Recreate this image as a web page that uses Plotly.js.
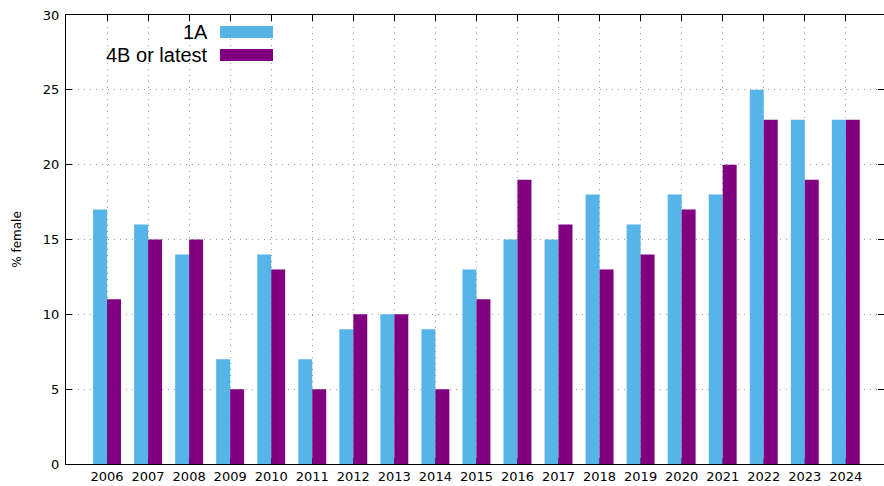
<!DOCTYPE html>
<html>
<head>
<meta charset="utf-8">
<script src="https://cdn.plot.ly/plotly-3.0.1.min.js"></script>
<style>html,body{margin:0;padding:0;background:#fff;}#chart{width:884px;height:486px;}</style>
</head>
<body>
<div id="chart"></div>
<script>
const years = ["2006","2007","2008","2009","2010","2011","2012","2013","2014","2015","2016","2017","2018","2019","2020","2021","2022","2023","2024"];
const series1Name = "1A";
const series1 = [17,16,14,7,14,7,9,10,9,13,15,15,18,16,18,18,25,23,23];
const series2Name = "4B or latest";
const series2 = [11,15,15,5,13,5,10,10,5,11,19,16,13,14,17,20,23,19,23];
const yTicks = [0,5,10,15,20,25,30];

const colors = ["#56b4e9", "#800080"];

const traces = [
  {type:"bar", x: years, y: series1, name: series1Name, marker:{color: colors[0], line:{width:0}}},
  {type:"bar", x: years, y: series2, name: series2Name, marker:{color: colors[1], line:{width:0}}}
];

const font = "DejaVu Sans, sans-serif";
const legendFont = "Liberation Sans, Arial, sans-serif";
const gridDash = "1px,5px";

const layout = {
  width: 884, height: 486,
  margin: {l: 66, r: 0, t: 15, b: 22, pad: 0},
  paper_bgcolor: "#fff", plot_bgcolor: "#fff",
  barmode: "group", bargap: 0.32, bargroupgap: 0,
  showlegend: false,
  xaxis: {
    type: "category", range: [-1, 18.93],
    showline: true, linecolor: "#000", linewidth: 1, mirror: "ticks",
    ticks: "inside", ticklen: 6, tickcolor: "#000", tickwidth: 1,
    showgrid: true, gridcolor: "#9a9a9a", griddash: gridDash, gridwidth: 1,
    tickfont: {family: font, size: 13, color: "#000"},
    layer: "below traces", zeroline: false
  },
  yaxis: {
    range: [0, 30], tickvals: yTicks, ticktext: yTicks.map(String),
    showline: true, linecolor: "#000", linewidth: 1, mirror: "ticks",
    ticks: "inside", ticklen: 6, tickcolor: "#000", tickwidth: 1,
    showgrid: true, gridcolor: "#9a9a9a", griddash: gridDash, gridwidth: 1,
    tickfont: {family: font, size: 13, color: "#000"},
    ticklabelstandoff: 3,
    zeroline: false,
    title: {text: "% female", font: {family: font, size: 12, color: "#000"}, standoff: 18}
  },
  annotations: [
    {xref: "paper", yref: "paper", x: (210-66)/818, y: (464-32)/449, xanchor: "right", yanchor: "middle",
     text: series1Name, showarrow: false, font: {family: legendFont, size: 20, color: "#000"}},
    {xref: "paper", yref: "paper", x: (210-66)/818, y: (464-55)/449, xanchor: "right", yanchor: "middle",
     text: series2Name, showarrow: false, font: {family: legendFont, size: 20, color: "#000"}}
  ],
  shapes: [
    {type: "rect", xref: "paper", yref: "paper", x0: (220-66)/818, x1: (273-66)/818, y0: (464-38)/449, y1: (464-26)/449,
     fillcolor: colors[0], line: {width: 0}},
    {type: "rect", xref: "paper", yref: "paper", x0: (220-66)/818, x1: (273-66)/818, y0: (464-61)/449, y1: (464-49)/449,
     fillcolor: colors[1], line: {width: 0}}
  ]
};

Plotly.newPlot("chart", traces, layout, {displayModeBar: false, staticPlot: true});
</script>
</body>
</html>
